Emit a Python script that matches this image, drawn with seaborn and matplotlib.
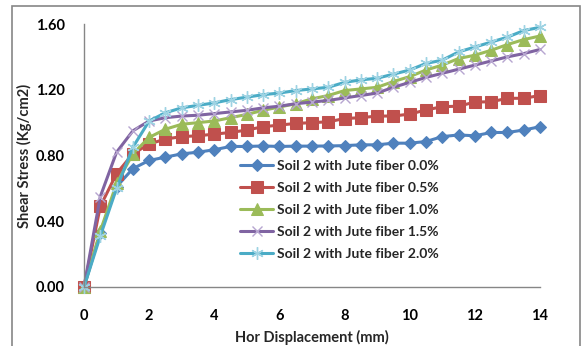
import matplotlib
matplotlib.use("Agg")
import matplotlib.pyplot as plt
import seaborn as sns
import pandas as pd
from matplotlib.patches import Rectangle

displacement = [0, 0.5, 1, 1.5, 2, 2.5, 3, 3.5, 4, 4.5, 5, 5.5, 6, 6.5, 7, 7.5,
                8, 8.5, 9, 9.5, 10, 10.5, 11, 11.5, 12, 12.5, 13, 13.5, 14]

fiber_00 = [0, 0.33, 0.61, 0.72, 0.77, 0.79, 0.81, 0.82, 0.835, 0.855, 0.855, 0.858,
            0.855, 0.857, 0.857, 0.858, 0.86, 0.865, 0.865, 0.875, 0.875, 0.885,
            0.915, 0.925, 0.92, 0.94, 0.94, 0.955, 0.975]
fiber_05 = [0, 0.49, 0.69, 0.81, 0.87, 0.90, 0.915, 0.92, 0.93, 0.94, 0.955, 0.975,
            0.985, 0.995, 1.0, 1.005, 1.025, 1.03, 1.04, 1.04, 1.052, 1.077, 1.097,
            1.10, 1.125, 1.127, 1.148, 1.148, 1.165]
fiber_10 = [0, 0.34, 0.63, 0.81, 0.91, 0.96, 0.99, 1.0, 1.01, 1.03, 1.05, 1.075,
            1.095, 1.115, 1.145, 1.165, 1.195, 1.205, 1.215, 1.25, 1.28, 1.32, 1.35,
            1.39, 1.41, 1.44, 1.475, 1.505, 1.527]
fiber_15 = [0, 0.55, 0.82, 0.95, 1.01, 1.03, 1.04, 1.045, 1.055, 1.065, 1.075, 1.09,
            1.10, 1.115, 1.125, 1.135, 1.15, 1.165, 1.18, 1.215, 1.245, 1.275, 1.30,
            1.325, 1.35, 1.375, 1.40, 1.42, 1.445]
fiber_20 = [0, 0.31, 0.60, 0.85, 1.01, 1.06, 1.09, 1.105, 1.12, 1.14, 1.155, 1.17,
            1.18, 1.195, 1.205, 1.215, 1.245, 1.26, 1.27, 1.295, 1.32, 1.36, 1.38,
            1.43, 1.46, 1.49, 1.52, 1.56, 1.58]

labels = ["Soil 2 with Jute fiber 0.0%", "Soil 2 with Jute fiber 0.5%",
          "Soil 2 with Jute fiber 1.0%", "Soil 2 with Jute fiber 1.5%",
          "Soil 2 with Jute fiber 2.0%"]
x_ticks = [0, 2, 4, 6, 8, 10, 12, 14]
y_ticks = [0.0, 0.4, 0.8, 1.2, 1.6]

sns.set_theme(style="white")
plt.rcParams['font.family'] = ['Lato', 'DejaVu Sans']

fig = plt.figure(figsize=(5.82, 3.46), dpi=100)
ax = fig.add_axes([84/582, 1-287/346, (540-84)/582, (287-24)/346])

styles = [
    dict(color="#4F81BD", marker="D", markersize=6, mfc="#4F81BD", mec="#4F81BD"),
    dict(color="#C0504D", marker="s", markersize=8, mfc="#C0504D", mec="#C0504D"),
    dict(color="#9BBB59", marker="^", markersize=8.5, mfc="#9BBB59", mec="#9BBB59"),
    dict(color="#8064A2", marker="x", markersize=6.5, mfc="#B7A6D0", mec="#B7A6D0", mew=1),
    dict(color="#4BACC6", marker=(6, 2, 0), markersize=9, mfc="#9ED3E3", mec="#9ED3E3", mew=1),
]
series = [fiber_00, fiber_05, fiber_10, fiber_15, fiber_20]
for vals, lab, st in zip(series, labels, styles):
    df = pd.DataFrame({"x": displacement, "y": vals})
    sns.lineplot(data=df, x="x", y="y", ax=ax, label=lab, linewidth=2.2,
                 clip_on=False, **st)

ax.set_xlim(0, 14)
ax.set_ylim(0, 1.6)
ax.set_xticks(x_ticks)
ax.set_yticks(y_ticks)
ax.set_xticklabels([str(t) for t in x_ticks], fontweight="bold", fontsize=10.5)
ax.set_yticklabels([f"{t:.2f}" for t in y_ticks], fontweight="bold", fontsize=10.5)
ax.tick_params(axis="both", direction="out", length=5, width=1, color="#868686",
               labelcolor="#000000")
ax.tick_params(axis="y", pad=9)
ax.tick_params(axis="x", pad=11)
for s in ["top", "right"]:
    ax.spines[s].set_visible(False)
for s in ["left", "bottom"]:
    ax.spines[s].set_color("#868686")
    ax.spines[s].set_linewidth(1)
ax.set_xlabel("Hor Displacement (mm)", fontweight="bold", fontsize=10.5)
ax.set_ylabel("Shear Stress (Kg/cm2)", fontweight="bold", fontsize=10.5)
ax.xaxis.set_label_coords(0.5, -0.165)
ax.yaxis.set_label_coords(-0.115, 0.5)

leg = ax.legend(loc="upper left", bbox_to_anchor=(240/582, 1-160/346),
                bbox_transform=fig.transFigure, frameon=False, borderpad=0,
                borderaxespad=0, handlelength=2.4, handletextpad=0.25,
                labelspacing=0.72, prop={"weight": "bold", "size": 10})

fig.patches.append(Rectangle((12/582, -0.05), (580-12)/582, 1.05-6/346,
                             transform=fig.transFigure, fill=False,
                             edgecolor="#868686", linewidth=1.2))

fig.savefig("out.png", dpi=100)
